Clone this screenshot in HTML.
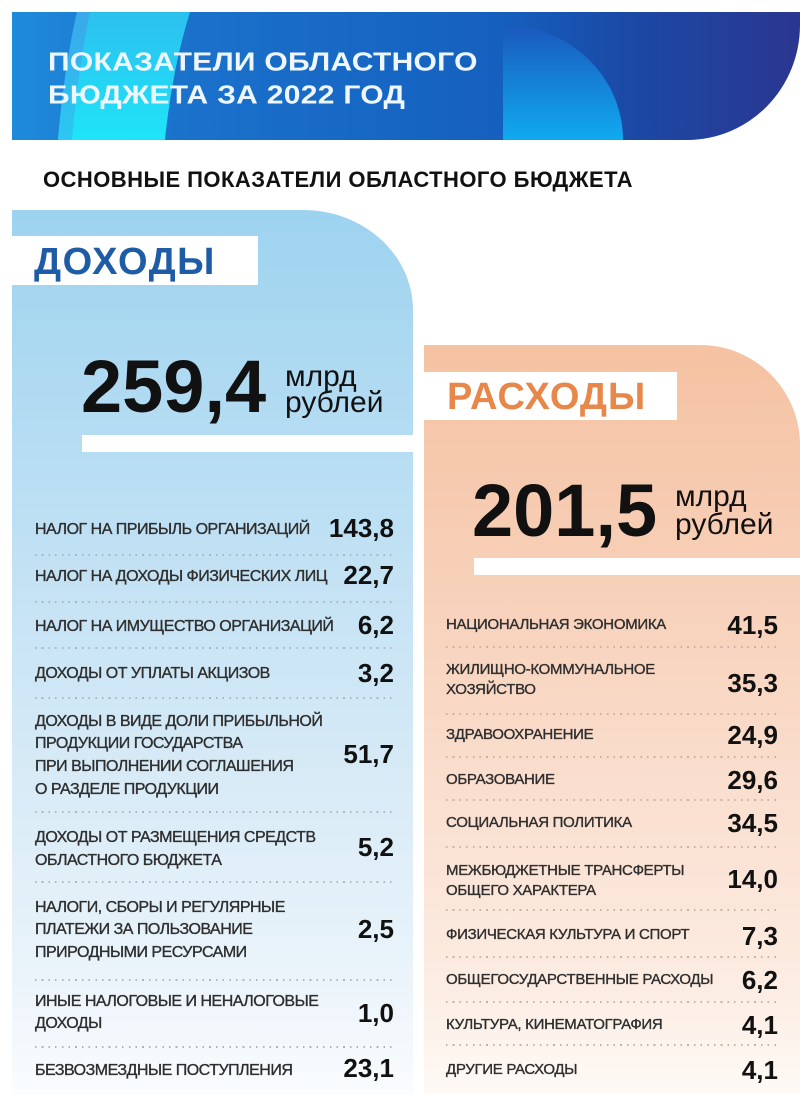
<!DOCTYPE html>
<html><head><meta charset="utf-8">
<style>
*{margin:0;padding:0;box-sizing:border-box}
body{width:800px;height:1101px;position:relative;overflow:hidden;background:#fff;font-family:"Liberation Sans","Noto Sans CJK SC",sans-serif}
.a{position:absolute;white-space:nowrap}
.t{font-weight:bold;color:#eef7ff;font-size:30px;line-height:30px;letter-spacing:0.3px;transform:scaleY(0.85);transform-origin:0 0}
.lab{position:absolute;white-space:nowrap;color:#2e2e2e;font-size:16px;letter-spacing:-0.5px;-webkit-text-stroke:0.35px #2e2e2e}
.rl{font-size:15px;letter-spacing:-0.3px;line-height:20px}
.v{position:absolute;white-space:nowrap;font-weight:bold;color:#111;font-size:26px;line-height:26px;text-align:right}
.dl{position:absolute;height:2px;background-image:repeating-linear-gradient(to right,#a9b6c0 0 1.6px,transparent 1.6px 6.7px)}
.dr{position:absolute;height:2px;background-image:repeating-linear-gradient(to right,#c9b0a2 0 1.6px,transparent 1.6px 6.7px)}
.big{position:absolute;white-space:nowrap;font-weight:bold;color:#111;font-size:74px;line-height:74px}
.unit{position:absolute;white-space:nowrap;color:#111;font-size:30px;line-height:30px}
</style></head>
<body>
<svg class="a" style="left:0;top:0" width="800" height="145" viewBox="0 0 800 145">
<defs>
<clipPath id="bc"><path d="M12 12 H800 V25 A113 115 0 0 1 687 140 H12 Z"/></clipPath>
<linearGradient id="base" x1="0" y1="0" x2="1" y2="0">
<stop offset="0" stop-color="#1f8cdc"/>
<stop offset="0.22" stop-color="#1a72cb"/>
<stop offset="0.62" stop-color="#1560bf"/>
<stop offset="0.78" stop-color="#1a4aa6"/>
<stop offset="1" stop-color="#2b3690"/>
</linearGradient>
<linearGradient id="cy" x1="0" y1="0" x2="0" y2="1">
<stop offset="0" stop-color="#2cc0ee"/>
<stop offset="1" stop-color="#1fe4f8"/>
</linearGradient>
<linearGradient id="cy2" x1="0" y1="0" x2="0" y2="1">
<stop offset="0" stop-color="#3aa8ea"/>
<stop offset="1" stop-color="#2bc8f2"/>
</linearGradient>
<linearGradient id="qs" x1="0" y1="0" x2="0" y2="1">
<stop offset="0" stop-color="#1a58bd"/>
<stop offset="1" stop-color="#10aaf0"/>
</linearGradient>
</defs>
<g clip-path="url(#bc)">
<rect x="0" y="0" width="800" height="145" fill="url(#base)"/>
<path d="M77 12 H190 Q172 70 165 140 H58 Q64 70 77 12 Z" fill="url(#cy)"/>
<path d="M77 12 H90 Q78 70 72 140 H58 Q64 70 77 12 Z" fill="url(#cy2)"/>
<path d="M503 140 V25 A120 115 0 0 1 623 140 Z" fill="url(#qs)"/>
</g>
</svg>
<div class="a t" style="left:48px;top:50.4px">ПОКАЗАТЕЛИ ОБЛАСТНОГО</div>
<div class="a t" style="left:48px;top:83.4px">БЮДЖЕТА ЗА 2022 ГОД</div>

<div class="a" style="left:43px;top:169px;font-size:22px;line-height:22px;font-weight:bold;color:#111;letter-spacing:0.45px">ОСНОВНЫЕ ПОКАЗАТЕЛИ ОБЛАСТНОГО БЮДЖЕТА</div>

<!-- left panel -->
<div class="a" style="left:12px;top:210px;width:401px;height:884px;border-top-right-radius:110px 100px;background:linear-gradient(to bottom,#9dd3ef 0%,#b9def3 30%,#d4e9f6 60%,#e9f3fa 85%,#fafcfe 100%)"></div>
<div class="a" style="left:12px;top:236px;width:246px;height:49px;background:#fff"></div>
<div class="a" style="left:34px;top:243px;font-size:38px;line-height:38px;font-weight:bold;color:#1f5ca6;letter-spacing:1.5px">ДОХОДЫ</div>
<div class="big" style="left:81px;top:350px">259,4</div>
<div class="unit" style="left:285px;top:362px">млрд</div>
<div class="unit" style="left:285px;top:388px">рублей</div>
<div class="a" style="left:82px;top:435px;width:331px;height:17px;background:#fff"></div>

<!-- right panel -->
<div class="a" style="left:424px;top:345px;width:376px;height:749px;border-top-right-radius:100px 100px;background:linear-gradient(to bottom,#f5c2a2 0%,#f7cfb7 30%,#fadfcf 60%,#fcece2 85%,#fefaf6 100%)"></div>
<div class="a" style="left:424px;top:372px;width:253px;height:48px;background:#fff"></div>
<div class="a" style="left:447px;top:378px;font-size:38px;line-height:38px;font-weight:bold;color:#e8874a;letter-spacing:1px">РАСХОДЫ</div>
<div class="big" style="left:472px;top:474px">201,5</div>
<div class="unit" style="left:675px;top:482px">млрд</div>
<div class="unit" style="left:675px;top:510px">рублей</div>
<div class="a" style="left:474px;top:558px;width:326px;height:17px;background:#fff"></div>

<!-- left list -->
<div class="lab" style="left:35px;top:517.5px;line-height:23px">НАЛОГ НА ПРИБЫЛЬ ОРГАНИЗАЦИЙ</div>
<div class="v" style="right:406px;top:515px">143,8</div>
<div class="dl" style="left:35px;top:554px;width:360px"></div>
<div class="lab" style="left:35px;top:564.5px;line-height:23px">НАЛОГ НА ДОХОДЫ ФИЗИЧЕСКИХ ЛИЦ</div>
<div class="v" style="right:406px;top:562px">22,7</div>
<div class="dl" style="left:35px;top:601px;width:360px"></div>
<div class="lab" style="left:35px;top:614.5px;line-height:23px">НАЛОГ НА ИМУЩЕСТВО ОРГАНИЗАЦИЙ</div>
<div class="v" style="right:406px;top:612px">6,2</div>
<div class="dl" style="left:35px;top:647px;width:360px"></div>
<div class="lab" style="left:35px;top:662px;line-height:23px">ДОХОДЫ ОТ УПЛАТЫ АКЦИЗОВ</div>
<div class="v" style="right:406px;top:660px">3,2</div>
<div class="dl" style="left:35px;top:697px;width:360px"></div>
<div class="lab" style="left:35px;top:710.6px;line-height:22.7px">ДОХОДЫ В ВИДЕ ДОЛИ ПРИБЫЛЬНОЙ<br>ПРОДУКЦИИ ГОСУДАРСТВА<br>ПРИ ВЫПОЛНЕНИИ СОГЛАШЕНИЯ<br>О РАЗДЕЛЕ ПРОДУКЦИИ</div>
<div class="v" style="right:406px;top:741px">51,7</div>
<div class="dl" style="left:35px;top:811px;width:360px"></div>
<div class="lab" style="left:35px;top:825.5px;line-height:23px">ДОХОДЫ ОТ РАЗМЕЩЕНИЯ СРЕДСТВ<br>ОБЛАСТНОГО БЮДЖЕТА</div>
<div class="v" style="right:406px;top:834px">5,2</div>
<div class="dl" style="left:35px;top:881px;width:360px"></div>
<div class="lab" style="left:35px;top:896.75px;line-height:22.5px">НАЛОГИ, СБОРЫ И РЕГУЛЯРНЫЕ<br>ПЛАТЕЖИ ЗА ПОЛЬЗОВАНИЕ<br>ПРИРОДНЫМИ РЕСУРСАМИ</div>
<div class="v" style="right:406px;top:916px">2,5</div>
<div class="dl" style="left:35px;top:979px;width:360px"></div>
<div class="lab" style="left:35px;top:991px;line-height:22px">ИНЫЕ НАЛОГОВЫЕ И НЕНАЛОГОВЫЕ<br>ДОХОДЫ</div>
<div class="v" style="right:406px;top:1000px">1,0</div>
<div class="dl" style="left:35px;top:1046px;width:360px"></div>
<div class="lab" style="left:35px;top:1058.5px;line-height:23px">БЕЗВОЗМЕЗДНЫЕ ПОСТУПЛЕНИЯ</div>
<div class="v" style="right:406px;top:1055px">23,1</div>

<!-- right list -->
<div class="lab rl" style="left:446px;top:615px">НАЦИОНАЛЬНАЯ ЭКОНОМИКА</div>
<div class="v" style="right:22px;top:612px">41,5</div>
<div class="dr" style="left:446px;top:646px;width:333px"></div>
<div class="lab rl" style="left:446px;top:660px">ЖИЛИЩНО-КОММУНАЛЬНОЕ<br>ХОЗЯЙСТВО</div>
<div class="v" style="right:22px;top:670px">35,3</div>
<div class="dr" style="left:446px;top:713px;width:333px"></div>
<div class="lab rl" style="left:446px;top:725px">ЗДРАВООХРАНЕНИЕ</div>
<div class="v" style="right:22px;top:722px">24,9</div>
<div class="dr" style="left:446px;top:756px;width:333px"></div>
<div class="lab rl" style="left:446px;top:770px">ОБРАЗОВАНИЕ</div>
<div class="v" style="right:22px;top:767px">29,6</div>
<div class="dr" style="left:446px;top:799px;width:333px"></div>
<div class="lab rl" style="left:446px;top:813px">СОЦИАЛЬНАЯ ПОЛИТИКА</div>
<div class="v" style="right:22px;top:810px">34,5</div>
<div class="dr" style="left:446px;top:846px;width:333px"></div>
<div class="lab rl" style="left:446px;top:861px">МЕЖБЮДЖЕТНЫЕ ТРАНСФЕРТЫ<br>ОБЩЕГО ХАРАКТЕРА</div>
<div class="v" style="right:22px;top:866px">14,0</div>
<div class="dr" style="left:446px;top:909px;width:333px"></div>
<div class="lab rl" style="left:446px;top:925px">ФИЗИЧЕСКАЯ КУЛЬТУРА И СПОРТ</div>
<div class="v" style="right:22px;top:923px">7,3</div>
<div class="dr" style="left:446px;top:956px;width:333px"></div>
<div class="lab rl" style="left:446px;top:970px">ОБЩЕГОСУДАРСТВЕННЫЕ РАСХОДЫ</div>
<div class="v" style="right:22px;top:967px">6,2</div>
<div class="dr" style="left:446px;top:1001px;width:333px"></div>
<div class="lab rl" style="left:446px;top:1015px">КУЛЬТУРА, КИНЕМАТОГРАФИЯ</div>
<div class="v" style="right:22px;top:1012px">4,1</div>
<div class="dr" style="left:446px;top:1044px;width:333px"></div>
<div class="lab rl" style="left:446px;top:1060px">ДРУГИЕ РАСХОДЫ</div>
<div class="v" style="right:22px;top:1057px">4,1</div>
</body></html>
